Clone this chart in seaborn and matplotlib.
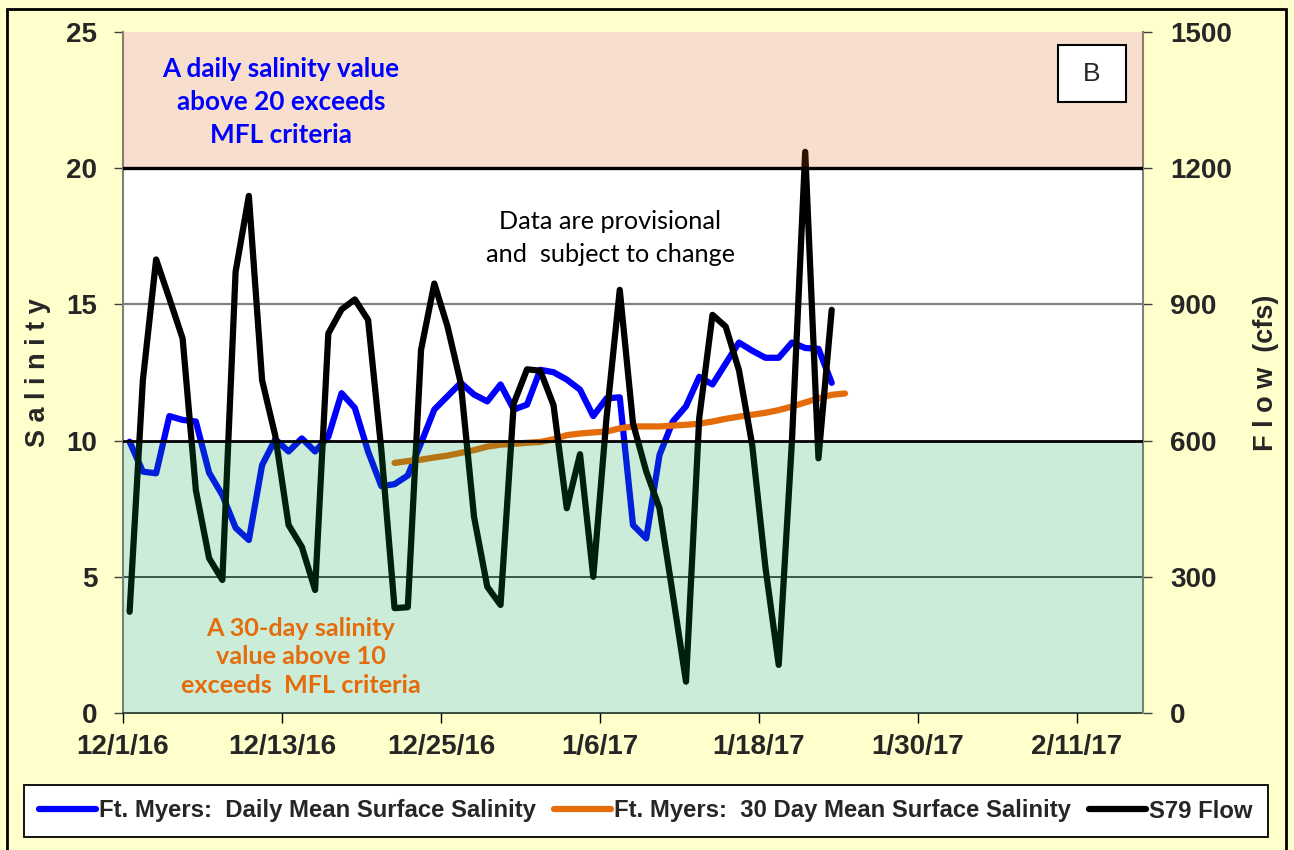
import matplotlib
matplotlib.use("Agg")
import matplotlib.pyplot as plt
import matplotlib.font_manager as fm
from matplotlib.patches import Rectangle
import seaborn as sns
import pandas as pd

# ------------------------------------------------------------
# DATEN (Tag 0 = 12/1/16)
# ------------------------------------------------------------
START = "2016-12-01"

# Ft. Myers: taegliche mittlere Oberflaechen-Salinitaet
SAL_DAILY = [
    9.96, 8.86, 8.80, 10.90, 10.76, 10.70, 8.82, 8.00, 6.80, 6.35,
    9.10, 10.05, 9.60, 10.08, 9.60, 10.14, 11.74, 11.20, 9.60, 8.33,
    8.40, 8.72, 9.91, 11.14, 11.63, 12.12, 11.69, 11.44, 12.06, 11.14,
    11.32, 12.60, 12.51, 12.24, 11.87, 10.90, 11.55, 11.59, 6.90, 6.41,
    9.47, 10.70, 11.26, 12.34, 12.06, 12.83, 13.60, 13.30, 13.04, 13.04,
    13.60, 13.40, 13.37, 12.12,
]

# S79 Abfluss (cfs)
FLOW_S79 = [
    223, 733, 999, 913, 825, 491, 341, 293, 972, 1139,
    733, 610, 414, 366, 271, 836, 889, 911, 866, 580,
    231, 233, 800, 946, 851, 726, 432, 278, 238, 682,
    757, 754, 678, 451, 570, 300, 650, 932, 638, 532,
    451, 262, 69, 650, 877, 851, 755, 590, 320, 106,
    600, 1236, 561, 888,
]

# Ft. Myers: 30-Tage-Mittel (beginnt an Tag 20)
SAL30_FIRST_DAY = 20
SAL_30DAY = [
    9.18, 9.25, 9.30, 9.38, 9.45, 9.55, 9.65, 9.78, 9.85, 9.88,
    9.92, 9.95, 10.05, 10.20, 10.26, 10.30, 10.33, 10.45, 10.52, 10.52,
    10.52, 10.55, 10.58, 10.62, 10.70, 10.80, 10.88, 10.95, 11.02, 11.12,
    11.25, 11.40, 11.55, 11.68, 11.73,
]

TICK_DATES = ["2016-12-01", "2016-12-13", "2016-12-25", "2017-01-06",
              "2017-01-18", "2017-01-30", "2017-02-11"]
TICK_LABELS = ["12/1/16", "12/13/16", "12/25/16", "1/6/17",
               "1/18/17", "1/30/17", "2/11/17"]
SAL_TICKS = [0, 5, 10, 15, 20, 25]
FLOW_TICKS = [0, 300, 600, 900, 1200, 1500]

LABELS = ["Ft. Myers:  Daily Mean Surface Salinity",
          "Ft. Myers:  30 Day Mean Surface Salinity",
          "S79 Flow"]

# ------------------------------------------------------------
# FARBEN / FONTS
# ------------------------------------------------------------
BG = "#FFFFCC"
BLUE, ORANGE, BLACK = "#0000FF", "#E46C0A", "#000000"
GREEN_OVL, PINK_OVL = "#00A347", "#DC5F05"

sns.set_style("white")
plt.rcParams["font.family"] = ["Liberation Sans", "DejaVu Sans"]
plt.rcParams["font.weight"] = "bold"


def have_font(name):
    try:
        fm.findfont(fm.FontProperties(family=name), fallback_to_default=False)
        return True
    except ValueError:
        return False


LEG_FONT = "Liberation Sans Narrow" if have_font("Liberation Sans Narrow") else "Liberation Sans"
LEG_SIZE = 19 if LEG_FONT.endswith("Narrow") else 17.2
ANN_FONT = ["Lato", "DejaVu Sans"]

W, H = 1294, 850


def fx(x):
    return x / W


def fy(y):
    return 1 - y / H


# ------------------------------------------------------------
# DATAFRAMES
# ------------------------------------------------------------
t0 = pd.Timestamp(START) + pd.Timedelta(hours=12)
daily = pd.DataFrame({
    "date": pd.date_range(t0, periods=len(SAL_DAILY), freq="D"),
    "salinity": SAL_DAILY,
    "flow": FLOW_S79,
})
mean30 = pd.DataFrame({
    "date": pd.date_range(t0 + pd.Timedelta(days=SAL30_FIRST_DAY),
                          periods=len(SAL_30DAY), freq="D"),
    "salinity": SAL_30DAY,
})

# ------------------------------------------------------------
# PLOT
# ------------------------------------------------------------
fig = plt.figure(figsize=(W / 100, H / 100), dpi=100)
fig.patch.set_facecolor(BG)
ax = fig.add_axes([fx(123), 1 - 713 / H, (1143 - 123) / W, (713 - 32) / H])
ax.set_facecolor("white")

sns.lineplot(data=daily, x="date", y="salinity", ax=ax, color=BLUE,
             lw=3.2, label=LABELS[0])
sns.lineplot(data=mean30, x="date", y="salinity", ax=ax, color=ORANGE,
             lw=3.2, label=LABELS[1], solid_capstyle="round")
ax.axhline(5, color="#3c3c3c", lw=1.3, zorder=1)
ax.axhline(15, color="#808080", lw=1.6, zorder=1)

ax2 = ax.twinx()
sns.lineplot(data=daily, x="date", y="flow", ax=ax2, color=BLACK,
             lw=2.7, label=LABELS[2])

# Baender als halbtransparente Ueberlagerung (wie im Original)
ax2.axhspan(0, 600, facecolor=GREEN_OVL, alpha=0.2, lw=0, zorder=5)
ax2.axhspan(1200, 1500, facecolor=PINK_OVL, alpha=0.2, lw=0, zorder=5)
ax2.axhline(600, color="black", lw=2.0, zorder=6)
ax2.axhline(1200, color="black", lw=2.4, zorder=6)

# Achsen
ax.set_xlim(pd.Timestamp(START), pd.Timestamp(START) + pd.Timedelta(days=77))
ax.set_ylim(0, 25)
ax2.set_ylim(0, 1500)
ax.set_xticks(pd.to_datetime(TICK_DATES))
ax.set_xticklabels(TICK_LABELS)
ax.set_yticks(SAL_TICKS)
ax2.set_yticks(FLOW_TICKS)

ax.tick_params(axis="y", direction="out", length=6.5, width=1, color="#404040",
               labelsize=20, pad=12, left=True)
ax.tick_params(axis="x", direction="out", length=7, width=1, color="black",
               labelsize=20, pad=8, bottom=True)
ax2.tick_params(axis="y", direction="out", length=6.5, width=1, color="#404040",
                labelsize=20, pad=13, right=True)

ax.spines["top"].set_visible(False)
ax2.spines["top"].set_visible(False)
ax2.spines["left"].set_visible(False)
ax2.spines["bottom"].set_visible(False)
ax.spines["right"].set_visible(False)
ax.spines["left"].set_color("#808080")
ax.spines["left"].set_linewidth(1.5)
ax2.spines["right"].set_color("#808080")
ax2.spines["right"].set_linewidth(1.5)
ax.spines["bottom"].set_color("#202020")
ax.spines["bottom"].set_linewidth(1.2)

ax.set_xlabel("")
ax.set_ylabel("S a l i n i t y", fontsize=19.5, fontweight="bold")
ax.yaxis.set_label_coords(-0.071, 0.5)
ax2.set_ylabel("F l o w  (cfs)", fontsize=19.5, fontweight="bold", rotation=90)
ax2.yaxis.set_label_coords(1.108, 0.5)

# Legende (gemeinsam, unten)
h1, l1 = ax.get_legend_handles_labels()
h2, l2 = ax2.get_legend_handles_labels()
ax.get_legend().remove()
ax2.get_legend().remove()
for h in h1 + h2:
    h.set_linewidth(4.5)
leg = fig.legend(h1 + h2, l1 + l2, loc="center",
                 bbox_to_anchor=(fx(646), fy(811)), ncol=3,
                 frameon=True, fancybox=False, edgecolor="black",
                 facecolor="white", framealpha=1, handlelength=2.4,
                 handletextpad=0.12, columnspacing=0.75, borderpad=0.62,
                 prop={"family": LEG_FONT, "weight": "bold", "size": LEG_SIZE})
leg.get_frame().set_linewidth(1.3)

# Texte
fig.text(fx(281), fy(102), "A daily salinity value\nabove 20 exceeds\nMFL criteria",
         ha="center", va="center", color=BLUE, fontsize=18.8, family=ANN_FONT,
         fontweight="bold", linespacing=1.45)
fig.text(fx(301), fy(657), "A 30-day salinity\nvalue above 10\nexceeds  MFL criteria",
         ha="center", va="center", color=ORANGE, fontsize=18.2, family=ANN_FONT,
         fontweight="bold", linespacing=1.27)
fig.text(fx(610), fy(238), "Data are provisional\nand  subject to change",
         ha="center", va="center", color="black", fontsize=18.2, family=ANN_FONT,
         fontweight="normal", linespacing=1.55)

# "B"-Kasten
fig.patches.append(Rectangle((fx(1058), fy(102)), (1126 - 1058) / W, (102 - 45) / H,
                             transform=fig.transFigure, facecolor="white",
                             edgecolor="black", lw=1.5, zorder=10))
fig.text(fx(1092), fy(74), "B", ha="center", va="center", fontsize=19,
         fontweight="normal", zorder=11)

# Rahmen um die ganze Grafik
fig.patches.append(Rectangle((fx(7), -0.01), (1286 - 7) / W, (H - 9) / H + 0.01,
                             transform=fig.transFigure, facecolor="none",
                             edgecolor="black", lw=2, zorder=0))

fig.savefig("out.png", dpi=100, facecolor=BG)
